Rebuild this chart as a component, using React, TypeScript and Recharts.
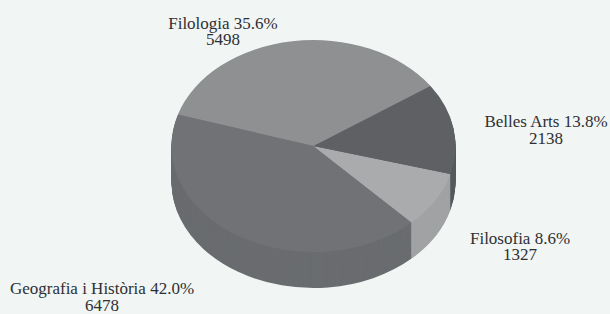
import { PieChart, Pie, Cell } from 'recharts';

const categories = ['Filologia', 'Geografia i Història', 'Filosofia', 'Belles Arts'];
const students = [5498, 6478, 1327, 2138];
const topColors = ['#8e9092', '#707275', '#a9abad', '#5e6063'];
const sideColors = ['#838587', '#6a6c6f', '#a0a2a4', '#57595c'];
// label baselines (first line) in page px
const labelSpots: [number, number][] = [[223, 29], [102, 294.5], [520, 244], [546, 127.5]];

const data = categories.map((name, i) => ({ name, value: students[i] }));

const W = 610;
const H = 314;
const squash = 106 / 142; // top face ry / rx
const cx = 313.5;
const cyTop = 146;
const radius = 142;
const depth = 36;
const start = 34.5;
const font = 'Liberation Serif, DejaVu Serif, serif';

const layers = Array.from({ length: depth }, (_, i) => depth - i);

function renderLabel(props: any) {
  const { index, name, value, percent } = props;
  const [x, y] = labelSpots[index];
  return (
    <g key={`lbl-${index}`} transform={`translate(${x}, ${y / squash}) scale(1, ${1 / squash})`}>
      <text
        textAnchor="middle"
        style={{ fontFamily: font, fontSize: 17, fill: '#2e3033' }}
      >
        <tspan x={0} y={0}>{`${name} ${(percent * 100).toFixed(1)}%`}</tspan>
        <tspan x={0} y={16.5}>{value}</tspan>
      </text>
    </g>
  );
}

export default function App() {
  const localH = Math.ceil(H / squash);
  return (
    <div style={{ position: 'absolute', left: 0, top: 0, width: W, height: H, overflow: 'hidden', background: '#f1f5f3' }}>
      <div style={{ width: W, height: localH, transform: `scaleY(${squash})`, transformOrigin: '0 0' }}>
        <PieChart width={W} height={localH} margin={{ top: 0, right: 0, bottom: 0, left: 0 }}>
          {layers.map((d) => (
            <Pie
              key={`side-${d}`}
              data={data}
              dataKey="value"
              nameKey="name"
              cx={cx}
              cy={cyTop / squash + d / squash}
              outerRadius={radius}
              startAngle={start}
              endAngle={start + 360}
              stroke="none"
              isAnimationActive={false}
            >
              {data.map((_, i) => <Cell key={i} fill={sideColors[i]} />)}
            </Pie>
          ))}
          <Pie
            data={data}
            dataKey="value"
            nameKey="name"
            cx={cx}
            cy={cyTop / squash}
            outerRadius={radius}
            startAngle={start}
            endAngle={start + 360}
            stroke="none"
            label={renderLabel}
            labelLine={false}
            isAnimationActive={false}
          >
            {data.map((_, i) => <Cell key={i} fill={topColors[i]} />)}
          </Pie>
        </PieChart>
      </div>
    </div>
  );
}
